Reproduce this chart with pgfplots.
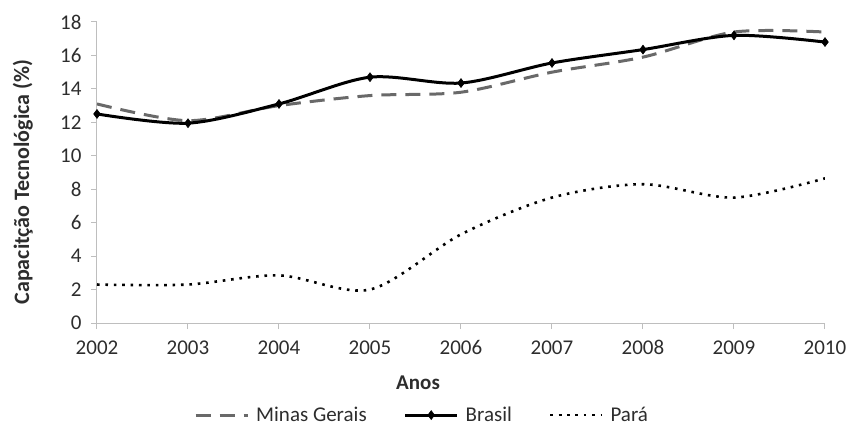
\documentclass[border=0pt]{standalone}
\usepackage{fontspec}
\setmainfont{Carlito}
\usepackage{pgfplots}
\pgfplotsset{compat=1.18}
\definecolor{axisgray}{RGB}{190,190,190}
\definecolor{textgray}{RGB}{45,45,45}
\definecolor{mgray}{RGB}{105,105,105}
\begin{document}
\begin{tikzpicture}
\path[use as bounding box] (-97bp,-107bp) rectangle (751bp,323bp);
\begin{axis}[
  scale only axis, width=728bp, height=301bp,
  xmin=2002, xmax=2010, ymin=0, ymax=18,
  xtick={2002,...,2010}, ytick={0,2,...,18},
  /pgf/number format/1000 sep={},
  /pgf/number format/assume math mode=true,
  axis lines*=left,
  axis line style={axisgray, line width=1bp},
  tick align=outside, major tick length=6bp,
  tick style={axisgray, line width=1bp},
  font=\fontsize{21bp}{24bp}\selectfont,
  tick label style={textgray},
  xticklabel style={yshift=-8bp},
  yticklabel style={xshift=-6bp},
  xlabel={\bfseries Anos},
  ylabel={\bfseries Capacitção Tecnológica (\%)},
  xlabel style={at={(axis description cs:0.441,-0.199)}, anchor=center, textgray},
  ylabel style={at={(axis description cs:-0.102,0.468)}, anchor=center, textgray,
    font=\fontsize{22bp}{24bp}\selectfont},
  legend columns=3,
  legend style={at={(axis description cs:0.45,-0.306)}, anchor=center,
    draw=none, fill=none, text=textgray, inner sep=0pt,
    nodes={inner xsep=7bp},
    /tikz/every even column/.append style={column sep=30bp}},
  legend cell align=left,
  legend image code/.code={%
    \draw[mark repeat=2,mark phase=2] plot coordinates {(0bp,0bp) (26bp,0bp) (52bp,0bp)};},
]
% Minas Gerais
\addplot[mgray, line width=3bp, dash pattern=on 15bp off 9bp, smooth, tension=0.5]
  coordinates {(2002,13.1) (2003,12.1) (2004,13.0) (2005,13.6) (2006,13.8)
               (2007,15.0) (2008,15.9) (2009,17.4) (2010,17.4)};
\addlegendentry{Minas Gerais}
% Brasil
\addplot[black, line width=3bp, smooth, tension=0.5, mark=diamond*, mark size=4.5bp,
  mark options={solid, fill=black, line width=0.5bp}]
  coordinates {(2002,12.5) (2003,11.95) (2004,13.1) (2005,14.7) (2006,14.35)
               (2007,15.55) (2008,16.35) (2009,17.2) (2010,16.8)};
\addlegendentry{Brasil}
% Pará
\addplot[black, line width=2.6bp, dash pattern=on 2.6bp off 5.8bp, smooth, tension=0.5]
  coordinates {(2002,2.3) (2003,2.3) (2004,2.85) (2005,2.0) (2006,5.3)
               (2007,7.5) (2008,8.3) (2009,7.5) (2010,8.65)};
\addlegendentry{Pará}
\end{axis}
\end{tikzpicture}
\end{document}
